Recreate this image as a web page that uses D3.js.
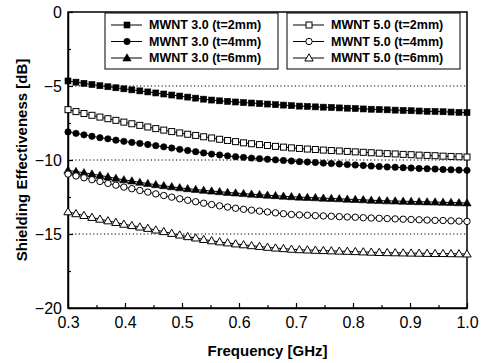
<!DOCTYPE html>
<html><head><meta charset="utf-8">
<script src="https://cdn.jsdelivr.net/npm/d3@7"></script>
<style>body{margin:0;background:#fff}svg{display:block}</style>
</head><body>
<svg id="c" width="488" height="363"></svg>
<script>
const freq = [0.300,0.314,0.328,0.342,0.356,0.370,0.384,0.398,0.412,0.426,0.440,0.454,0.468,0.482,0.496,0.510,0.524,0.538,0.552,0.566,0.580,0.594,0.608,0.622,0.636,0.650,0.664,0.678,0.692,0.706,0.720,0.734,0.748,0.762,0.776,0.790,0.804,0.818,0.832,0.846,0.860,0.874,0.888,0.902,0.916,0.930,0.944,0.958,0.972,0.986,1.000];
const mwnt3_2mm = [-4.66,-4.74,-4.82,-4.90,-4.98,-5.05,-5.12,-5.19,-5.26,-5.33,-5.40,-5.47,-5.54,-5.61,-5.68,-5.75,-5.82,-5.89,-5.95,-6.00,-6.04,-6.08,-6.12,-6.15,-6.19,-6.22,-6.26,-6.29,-6.33,-6.36,-6.38,-6.41,-6.43,-6.45,-6.48,-6.50,-6.52,-6.55,-6.57,-6.59,-6.61,-6.63,-6.65,-6.67,-6.69,-6.71,-6.72,-6.74,-6.76,-6.78,-6.80];
const mwnt5_2mm = [-6.60,-6.73,-6.86,-6.98,-7.10,-7.21,-7.32,-7.44,-7.55,-7.66,-7.77,-7.88,-7.98,-8.08,-8.17,-8.26,-8.34,-8.43,-8.51,-8.60,-8.68,-8.76,-8.84,-8.90,-8.96,-9.02,-9.08,-9.13,-9.18,-9.22,-9.26,-9.29,-9.33,-9.36,-9.39,-9.42,-9.45,-9.48,-9.51,-9.54,-9.57,-9.59,-9.62,-9.64,-9.67,-9.69,-9.71,-9.74,-9.76,-9.78,-9.80];
const mwnt3_4mm = [-8.10,-8.20,-8.30,-8.40,-8.49,-8.57,-8.66,-8.74,-8.81,-8.88,-8.95,-9.03,-9.11,-9.19,-9.28,-9.36,-9.44,-9.52,-9.60,-9.66,-9.72,-9.78,-9.82,-9.87,-9.91,-9.95,-9.99,-10.03,-10.07,-10.11,-10.14,-10.17,-10.21,-10.24,-10.27,-10.31,-10.34,-10.37,-10.41,-10.44,-10.47,-10.49,-10.52,-10.54,-10.57,-10.59,-10.61,-10.64,-10.66,-10.68,-10.70];
const mwnt3_6mm = [-10.70,-10.78,-10.86,-10.95,-11.04,-11.14,-11.24,-11.34,-11.42,-11.51,-11.59,-11.67,-11.74,-11.81,-11.88,-11.94,-11.99,-12.05,-12.10,-12.14,-12.19,-12.23,-12.27,-12.31,-12.34,-12.38,-12.41,-12.45,-12.48,-12.51,-12.53,-12.55,-12.58,-12.60,-12.62,-12.65,-12.67,-12.69,-12.72,-12.74,-12.76,-12.77,-12.79,-12.80,-12.82,-12.83,-12.84,-12.86,-12.87,-12.89,-12.90];
const mwnt5_4mm = [-10.95,-11.08,-11.20,-11.33,-11.45,-11.58,-11.70,-11.83,-11.94,-12.06,-12.17,-12.29,-12.40,-12.51,-12.62,-12.72,-12.82,-12.92,-13.01,-13.10,-13.18,-13.26,-13.33,-13.39,-13.45,-13.51,-13.57,-13.63,-13.68,-13.71,-13.73,-13.76,-13.78,-13.80,-13.83,-13.85,-13.87,-13.90,-13.92,-13.94,-13.96,-13.98,-14.00,-14.02,-14.04,-14.06,-14.08,-14.09,-14.11,-14.13,-14.15];
const mwnt5_6mm = [-13.50,-13.63,-13.75,-13.88,-14.00,-14.11,-14.22,-14.34,-14.43,-14.53,-14.62,-14.73,-14.84,-14.96,-15.07,-15.18,-15.27,-15.37,-15.46,-15.53,-15.60,-15.67,-15.73,-15.79,-15.84,-15.90,-15.95,-15.99,-16.03,-16.06,-16.08,-16.10,-16.12,-16.14,-16.16,-16.17,-16.19,-16.21,-16.23,-16.25,-16.26,-16.27,-16.28,-16.29,-16.30,-16.31,-16.32,-16.32,-16.33,-16.34,-16.35];
const seriesNames = ["MWNT 3.0 (t=2mm)","MWNT 3.0 (t=4mm)","MWNT 3.0 (t=6mm)","MWNT 5.0 (t=2mm)","MWNT 5.0 (t=4mm)","MWNT 5.0 (t=6mm)"];
const xTicks = [0.3,0.4,0.5,0.6,0.7,0.8,0.9,1.0];
const yTicks = [0,-5,-10,-15,-20];
const gridValues = [-5,-10,-15];

const series = [
  {name:seriesNames[0], values:mwnt3_2mm, shape:"square", fill:true},
  {name:seriesNames[1], values:mwnt3_4mm, shape:"circle", fill:true},
  {name:seriesNames[2], values:mwnt3_6mm, shape:"triangle", fill:true},
  {name:seriesNames[3], values:mwnt5_2mm, shape:"square", fill:false},
  {name:seriesNames[4], values:mwnt5_4mm, shape:"circle", fill:false},
  {name:seriesNames[5], values:mwnt5_6mm, shape:"triangle", fill:false}
];

const svg = d3.select("#c");
const L = 68, R = 467, T = 12, B = 308;
const x = d3.scaleLinear().domain([0.3,1.0]).range([L,R]);
const y = d3.scaleLinear().domain([-20,0]).range([B,T]);
const font = "'Liberation Sans', Arial, sans-serif";

// grid lines
svg.append("g").selectAll("line").data(gridValues).join("line")
  .attr("x1",L).attr("x2",R).attr("y1",d=>y(d)).attr("y2",d=>y(d))
  .attr("stroke","#000").attr("stroke-width",1).attr("stroke-dasharray","1.2,2.4");

// axes
const xAxis = d3.axisBottom(x).tickValues(xTicks).tickFormat(d3.format(".1f")).tickSizeInner(-5).tickSizeOuter(0).tickPadding(9);
const gx = svg.append("g").attr("transform",`translate(0,${B})`).call(xAxis);
const xMinor = d3.axisBottom(x).tickValues(d3.range(0.35,1.0,0.1)).tickFormat("").tickSizeInner(-3).tickSizeOuter(0);
svg.append("g").attr("transform",`translate(0,${B})`).call(xMinor).select(".domain").remove();
const yAxis = d3.axisLeft(y).tickValues(yTicks).tickFormat(d3.format("d")).tickSizeInner(-5).tickSizeOuter(0).tickPadding(6);
const gy = svg.append("g").attr("transform",`translate(${L},0)`).call(yAxis);
const yMinor = d3.axisLeft(y).tickValues([-2.5,-7.5,-12.5,-17.5]).tickFormat("").tickSizeInner(-3).tickSizeOuter(0);
svg.append("g").attr("transform",`translate(${L},0)`).call(yMinor).select(".domain").remove();
svg.selectAll(".tick text").attr("font-family",font).attr("font-size",16).attr("fill","#000");
svg.selectAll(".tick line").attr("stroke","#000").attr("stroke-width",1.2);
svg.selectAll(".domain").attr("stroke","#000").attr("stroke-width",1.5);

// frame
svg.append("rect").attr("x",L).attr("y",T).attr("width",R-L).attr("height",B-T)
  .attr("fill","none").attr("stroke","#000").attr("stroke-width",1.5);

// series
const line = d3.line().x((d,i)=>x(freq[i])).y(d=>y(d));
function marker(g, shape, fill, cx, cy){
  const st = {fill: fill? "#000":"#fff", stroke:"#000", "stroke-width": fill?0.6:1};
  let m;
  if(shape==="square") m = g.append("rect").attr("x",cx-3).attr("y",cy-3).attr("width",6).attr("height",6);
  else if(shape==="circle") m = g.append("circle").attr("cx",cx).attr("cy",cy).attr("r",3.2);
  else m = g.append("path").attr("d",d3.symbol(d3.symbolTriangle,30)()).attr("transform",`translate(${cx},${cy+0.6})`);
  for(const k in st) m.attr(k,st[k]);
}
series.forEach(s=>{
  const g = svg.append("g");
  g.append("path").datum(s.values).attr("d",line).attr("fill","none").attr("stroke","#000").attr("stroke-width",1);
  s.values.forEach((v,i)=>marker(g,s.shape,s.fill,x(freq[i]),y(v)));
});

// legend
const boxes = [{x0:105,x1:278,items:series.slice(0,3)},{x0:287,x1:460,items:series.slice(3,6)}];
boxes.forEach(b=>{
  const g = svg.append("g");
  g.append("rect").attr("x",b.x0).attr("y",13).attr("width",b.x1-b.x0).attr("height",56)
    .attr("fill","#fff").attr("stroke","#000").attr("stroke-width",1);
  b.items.forEach((s,i)=>{
    const cy = 25 + i*16.5;
    g.append("line").attr("x1",b.x0+6).attr("x2",b.x0+37).attr("y1",cy).attr("y2",cy).attr("stroke","#000").attr("stroke-width",1);
    marker(g,s.shape,s.fill,b.x0+22,cy);
    g.append("text").attr("x",b.x0+44).attr("y",cy).attr("dy","0.35em")
      .attr("font-family",font).attr("font-weight","bold").attr("font-size",12.5).text(s.name);
  });
});

// titles
svg.append("text").attr("x",(L+R)/2).attr("y",356).attr("text-anchor","middle")
  .attr("font-family",font).attr("font-weight","bold").attr("font-size",15).text("Frequency [GHz]");
svg.append("text").attr("transform",`translate(27,${(T+B)/2}) rotate(-90)`).attr("text-anchor","middle")
  .attr("font-family",font).attr("font-weight","bold").attr("font-size",15).text("Shielding Effectiveness [dB]");
</script>
</body></html>
